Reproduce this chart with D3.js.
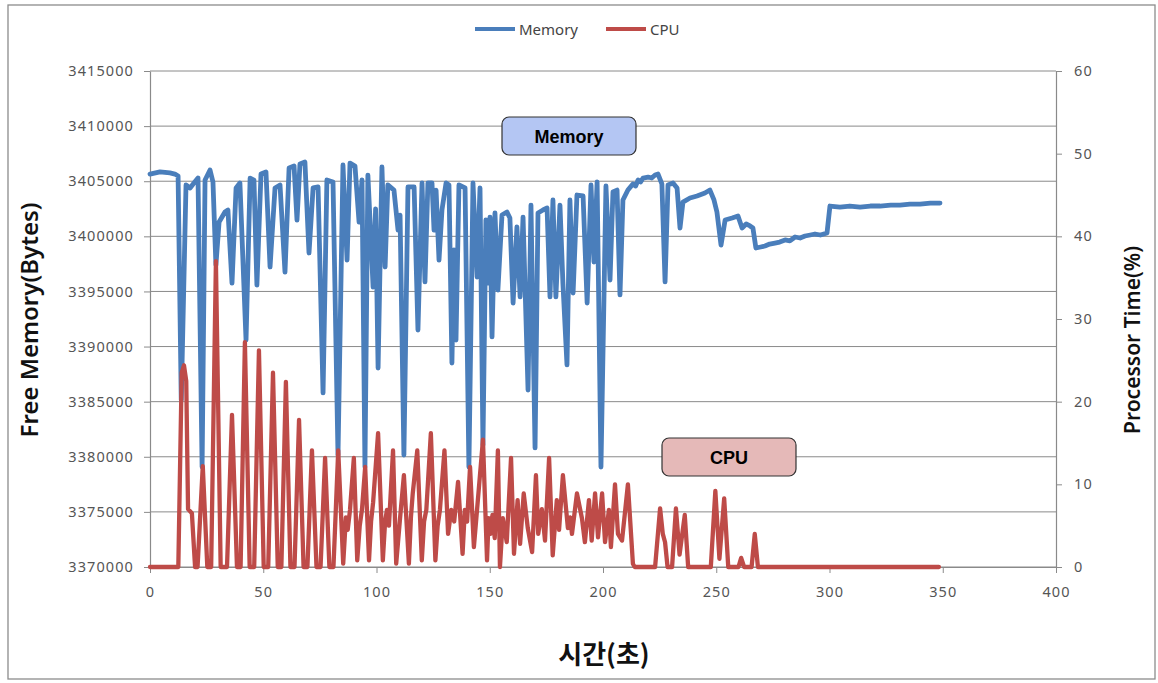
<!DOCTYPE html>
<html>
<head>
<meta charset="utf-8">
<script src="https://cdn.jsdelivr.net/npm/d3@7"></script>
<style>
  html, body { margin: 0; padding: 0; background: #fff; }
  svg { display: block; }
  .tick text { font-family: "Noto Sans", "DejaVu Sans", sans-serif; }
</style>
</head>
<body>
<svg id="chart" width="1158" height="683"></svg>
<script>
// ---------------- DATA ----------------
const seriesNames = ["Memory", "CPU"];
const xTicks = [0, 50, 100, 150, 200, 250, 300, 350, 400];
const memoryTicks = [3370000, 3375000, 3380000, 3385000, 3390000, 3395000, 3400000, 3405000, 3410000, 3415000];
const cpuTicks = [0, 10, 20, 30, 40, 50, 60];

// [time (s), free memory (bytes)]
const memorySeries = [
  [0,3405650],[4.4,3405840],[8.8,3405750],[11,3405650],[12.4,3405470],[13.8,3385150],[15.9,3404660],
  [17.7,3404390],[19.4,3404840],[21.2,3405300],[23,3379070],[24.3,3405110],[26.5,3406020],[27.8,3404930],
  [29.1,3397400],[30.5,3401300],[33.1,3402210],[34.4,3402390],[36.2,3395760],[38,3404390],[39.7,3404840],
  [42.4,3390590],[44.2,3405290],[45.9,3405110],[47.2,3395580],[49,3405650],[51.2,3405840],[53,3397220],
  [55.2,3404390],[57.4,3404660],[59.6,3396760],[61.4,3406200],[63.6,3406380],[64.9,3401480],[66.2,3406560],
  [68.4,3406740],[70.2,3398490],[72,3404390],[74.2,3404480],[76.4,3385790],[78.1,3405110],[80.8,3404930],
  [83,3380160],[85.2,3406470],[87,3397850],[88.3,3406650],[90.5,3406380],[92.3,3401300],[93.6,3405110],
  [94.9,3379070],[96.2,3405560],[98.5,3395400],[99.6,3402500],[100.7,3388050],[102.4,3406290],[103.8,3397220],
  [105,3404660],[107.7,3404200],[109.5,3400570],[110.4,3401930],[112.1,3380160],[113.9,3404480],[116.6,3404480],
  [118.3,3391500],[120.1,3404840],[121.4,3395860],[122.7,3404840],[124.5,3404840],[125.4,3400570],[126.3,3404200],
  [127.6,3397850],[128.9,3402390],[130.7,3404840],[132,3404660],[133.3,3388510],[134.2,3398760],[135.1,3390590],
  [136.4,3404660],[139.1,3404390],[140.8,3379070],[142.6,3404840],[144.4,3396310],[145.7,3404390],[147,3381070],
  [148.3,3401480],[149.2,3395760],[150.1,3401750],[151,3390870],[152.3,3402120],[153.6,3395130],[155.4,3401930],
  [157.6,3402210],[158.9,3401660],[160.3,3393950],[162,3400850],[163.4,3394500],[164.7,3401750],[166.9,3386060],
  [168.2,3402840],[170,3380800],[171.3,3402120],[173.5,3402390],[175.3,3402570],[176.6,3394500],[177.9,3403300],
  [179.2,3394500],[181,3402840],[182.3,3395760],[184.1,3388330],[185.4,3403300],[186.8,3394860],[188.5,3403750],
  [191.2,3403660],[193,3393950],[194.7,3404660],[196,3397670],[197.4,3404930],[199.1,3379070],[201.3,3404570],
  [203.1,3396040],[204.4,3404020],[206.2,3404200],[207.5,3394680],[208.8,3403300],[211,3404200],[213.2,3404750],
  [214.4,3404570],[215.5,3405110],[216.6,3404930],[217.7,3405290],[219.9,3405380],[221.5,3405290],[223,3405560],
  [224.3,3405650],[226,3404750],[227.4,3395860],
  [228.7,3404660],[230.9,3404840],[232.7,3404390],[234,3400750],[235.3,3403110],[238.4,3403480],[241.5,3403660],
  [245,3403930],[247.2,3404200],[249,3403300],[250.3,3402210],[252.1,3399210],[253.9,3401480],[257,3401660],
  [259.6,3401840],[261.4,3400750],[263.2,3401120],[264.9,3400940],[266.2,3400750],[267.5,3398940],[269.6,3399030],
  [271.5,3399120],[273.6,3399300],[275.9,3399390],[278,3399480],[280.4,3399670],[282.5,3399580],[284.8,3399940],
  [287,3399850],[289.2,3400030],[291.5,3400120],[293.6,3400210],[296,3400120],[298.9,3400300],[300.2,3402750],
  [304.6,3402660],[309,3402750],[313.5,3402660],[318,3402750],[322.3,3402750],[327,3402840],[331.1,3402840],
  [335.5,3402930],[340,3402930],[344.5,3403020],[348.8,3403020]
];

// [time (s), processor time (%)]
const cpuSeries = [
  [0,0],[12.5,0],[14,23.5],[15,24.4],[16,22.5],[16.8,7],[18.5,6.5],[19.9,0],[21,0],[23.3,12.2],[25.3,0],
  [27,0],[29.1,37],[31.2,0],[34,0],[36.2,18.4],[38.4,0],[40,0],[41.9,27.2],[44,0],[46,0],[48.1,26.2],
  [50.2,0],[52.2,0],[54.3,23.5],[56.4,0],[58,0],[60,22.4],[62,0],[63.8,0],[65.8,17.8],[67.8,0],[69.5,0],
  [71.5,14.1],[73.5,0],[75.3,0],[77.3,13.2],[79.2,0],[81,0],[83.1,14.1],[85.3,0.4],[86.5,6],[87.3,4.5],
  [88.3,6.9],[90,13.2],[91.5,0.8],[92.6,5],[93.6,7],[95,12.1],[96.7,0.8],[97.6,5.5],[98.5,7.8],[100.7,16.2],
  [102.8,0.8],[103.8,5.5],[104.6,6.9],[105.5,5],[107.3,14.1],[108.7,0.4],[110.4,5.9],[112.1,11.1],[114.3,0.4],
  [115.2,6],[116,8.9],[118,14.1],[120,0.8],[121,5.5],[122,6.9],[124,16.2],[126,0.8],[127,5],[128,6.9],
  [130,14.1],[131.6,4],[133,6.9],[134.3,5.5],[136,10.3],[138,1.6],[139,6.9],[140,5.5],[141.3,12.1],[143,2.4],
  [145,8.9],[147,15.4],[148.8,0.8],[149.5,5.9],[150.3,4],[151.2,6.3],[152.2,3.5],[153.6,14.1],[154.5,0],
  [155.8,5.9],[157.5,3],[159.4,13.2],[160.7,1.6],[162.3,8.1],[163.4,2.8],[165,8.9],[166.8,4.7],[168.7,1.8],
  [170.4,11.1],[171.4,4],[173,7],[174.4,3.2],[176.2,13.2],[177.8,1.4],[179.6,8.1],[180.6,4.5],[182.3,11.1],
  [184.5,4.7],[185.5,6],[186.3,4],[188.5,8.9],[190.7,5.9],[192,3],[193.8,8.1],[195,3.2],[196.5,8.9],
  [197.8,3.6],[199.6,8.9],[200.9,3],[202.6,6.9],[203.5,2.4],[205.3,10],[206.6,4],[208.4,3.2],[211,10],
  [213.2,0.4],[214,0],[223,0],[225.2,7.1],[226.4,4],[227.4,3],[228.5,0],[230.5,0],[232.2,7.1],[233.8,1.5],
  [236.1,6.3],[237.6,0],[247.6,0],[249.6,9.2],[251.4,1],[253.5,8.3],[255.3,0],[259.8,0],[261,1.1],[262.3,0],
  [265.6,0],[267,4],[268.4,0],[348.3,0]
];

const colors = { Memory: "#4a7ebb", CPU: "#be4b48" };

// ---------------- LAYOUT ----------------
const svg = d3.select("#chart");
const plot = { left: 150, right: 1056, top: 71, bottom: 567 };

svg.append("rect").attr("x", 8).attr("y", 5).attr("width", 1147).attr("height", 674)
  .attr("fill", "#fff").attr("stroke", "#8c8c8c").attr("stroke-width", 1.3);

const x = d3.scaleLinear().domain([0, 400]).range([plot.left, plot.right]);
const yL = d3.scaleLinear().domain([3370000, 3415000]).range([plot.bottom, plot.top]);
const yR = d3.scaleLinear().domain([0, 60]).range([plot.bottom, plot.top]);

// gridlines
svg.append("g").selectAll("line").data(memoryTicks).join("line")
  .attr("x1", plot.left).attr("x2", plot.right)
  .attr("y1", d => yL(d)).attr("y2", d => yL(d))
  .attr("stroke", "#8a8a8a").attr("stroke-width", 1);

const tickFont = "14.5px";
const tickColor = "#555";

function styleAxis(g) {
  g.select(".domain").attr("stroke", "#8a8a8a").attr("stroke-width", 1.2);
  g.selectAll(".tick line").attr("stroke", "#8a8a8a").attr("stroke-width", 1);
  g.selectAll(".tick text").attr("fill", tickColor).style("font-size", tickFont).style("letter-spacing", "1.1px");
}

svg.append("g").attr("transform", `translate(${plot.left},0)`)
  .call(d3.axisLeft(yL).tickValues(memoryTicks).tickFormat(d3.format("d")).tickSize(6).tickSizeOuter(0).tickPadding(10))
  .call(styleAxis);

svg.append("g").attr("transform", `translate(${plot.right},0)`)
  .call(d3.axisRight(yR).tickValues(cpuTicks).tickSize(6).tickSizeOuter(0).tickPadding(12))
  .call(styleAxis);

svg.append("g").attr("transform", `translate(0,${plot.bottom})`)
  .call(d3.axisBottom(x).tickValues(xTicks).tickSize(6).tickSizeOuter(0).tickPadding(14))
  .call(styleAxis);

// lines
const memLine = d3.line().x(d => x(d[0])).y(d => yL(d[1]));
const cpuLine = d3.line().x(d => x(d[0])).y(d => yR(d[1]));

svg.append("path").datum(memorySeries).attr("d", memLine)
  .attr("fill", "none").attr("stroke", colors.Memory).attr("stroke-width", 4.8)
  .attr("stroke-linejoin", "round").attr("stroke-linecap", "round");

svg.append("path").datum(cpuSeries).attr("d", cpuLine)
  .attr("fill", "none").attr("stroke", colors.CPU).attr("stroke-width", 4.3)
  .attr("stroke-linejoin", "round").attr("stroke-linecap", "round");

// axis titles
const titleFont = '"Noto Sans", "DejaVu Sans", sans-serif';
svg.append("text").attr("transform", "translate(38,320) rotate(-90)")
  .attr("text-anchor", "middle").attr("font-family", titleFont).attr("font-size", 24).attr("font-weight", 600)
  .attr("fill", "#111").text("Free Memory(Bytes)");

svg.append("text").attr("transform", "translate(1140,340) rotate(-90)")
  .attr("text-anchor", "middle").attr("font-family", titleFont).attr("font-size", 21).attr("font-weight", 600)
  .attr("fill", "#111").text("Processor Time(%)");

svg.append("text").attr("x", 604).attr("y", 664)
  .attr("text-anchor", "middle").attr("font-family", '"Noto Sans CJK KR", sans-serif').attr("font-size", 26).attr("font-weight", 700)
  .attr("fill", "#111").text("시간(초)");

// legend
const legend = svg.append("g").attr("font-family", titleFont).attr("font-size", 15).attr("fill", "#444");
const legendItems = [{ name: seriesNames[0], x0: 475 }, { name: seriesNames[1], x0: 606 }];
legendItems.forEach(it => {
  legend.append("line").attr("x1", it.x0).attr("x2", it.x0 + 40).attr("y1", 29).attr("y2", 29)
    .attr("stroke", colors[it.name]).attr("stroke-width", 4);
  legend.append("text").attr("x", it.x0 + 44).attr("y", 34.5).text(it.name);
});

// annotation boxes
function callout(cx, cy, label, fill) {
  const g = svg.append("g");
  g.append("rect").attr("x", cx - 67).attr("y", cy - 19).attr("width", 134).attr("height", 38).attr("rx", 7)
    .attr("fill", fill).attr("stroke", "#333").attr("stroke-width", 1.2);
  g.append("text").attr("x", cx).attr("y", cy + 6.5).attr("text-anchor", "middle")
    .attr("font-family", '"Liberation Sans", Arial, sans-serif').attr("font-weight", 700).attr("font-size", 18)
    .attr("fill", "#000").text(label);
}
callout(569, 136, "Memory", "#b4c6f3");
callout(729, 457, "CPU", "#e5b9b8");
</script>
</body>
</html>
